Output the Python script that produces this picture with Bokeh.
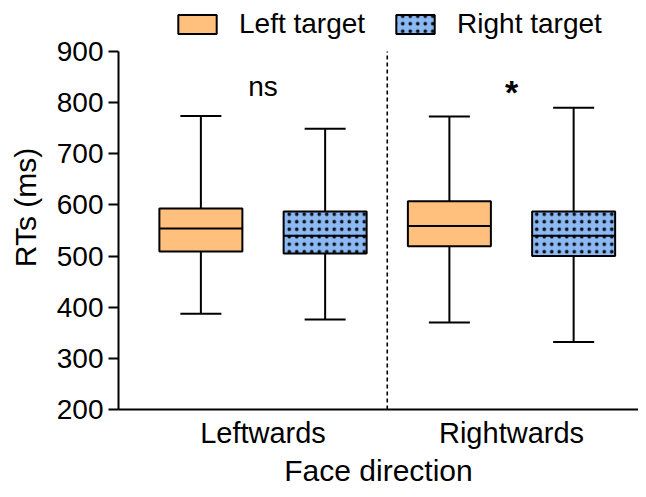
from bokeh.plotting import figure
from bokeh.models import Legend, LegendItem, FixedTicker, ColumnDataSource
from bokeh.embed import file_html
from bokeh.resources import INLINE
from bokeh.core.properties import value

# ---- data ----
groups = ["Leftwards", "Rightwards"]
series = ["Left target", "Right target"]
left_hi = [774, 773]
left_q3 = [593, 607]
left_med = [554, 559]
left_q1 = [509, 519]
left_lo = [387, 370]
right_hi = [749, 790]
right_q3 = [587, 587]
right_med = [540, 540]
right_q1 = [505, 500]
right_lo = [376, 332]
y_ticks = [200, 300, 400, 500, 600, 700, 800, 900]
sig_labels = ["ns", "*"]

FONT = "Liberation Sans"
ORANGE = "#FFC07E"
BLUE = "#8CB9F3"

group_x = [i + 1 for i in range(len(groups))]
offset = 0.25
box_w = 0.334
cap_w = 0.165

p = figure(width=638, height=489, x_range=(0.4185, 2.511), y_range=(200, 990),
           output_backend="svg", toolbar_location=None,
           min_border_left=118, min_border_right=0, min_border_top=5, min_border_bottom=80)
p.outline_line_color = None
p.xgrid.visible = False
p.ygrid.visible = False
p.background_fill_color = "white"

def draw_series(xs, hi, q3, med, q1, lo, color, hatch):
    src = ColumnDataSource(dict(x=xs, hi=hi, q3=q3, med=med, q1=q1, lo=lo,
                                cl=[x - cap_w / 2 for x in xs], cr=[x + cap_w / 2 for x in xs],
                                bl=[x - box_w / 2 for x in xs], br=[x + box_w / 2 for x in xs]))
    p.segment(x0="x", y0="q3", x1="x", y1="hi", source=src, line_color="black", line_width=2)
    p.segment(x0="x", y0="q1", x1="x", y1="lo", source=src, line_color="black", line_width=2)
    p.segment(x0="cl", y0="hi", x1="cr", y1="hi", source=src, line_color="black", line_width=2)
    p.segment(x0="cl", y0="lo", x1="cr", y1="lo", source=src, line_color="black", line_width=2)
    kw = dict(fill_color=color, line_color="black", line_width=2)
    if hatch:
        kw.update(hatch_pattern="dot", hatch_color="black", hatch_scale=7.5, hatch_weight=0.9,
                  hatch_alpha=0.9)
    r = p.vbar(x="x", width=box_w, top="q3", bottom="q1", source=src, **kw)
    p.segment(x0="bl", y0="med", x1="br", y1="med", source=src, line_color="black", line_width=2)
    return r

r1 = draw_series([g - offset for g in group_x], left_hi, left_q3, left_med, left_q1, left_lo, ORANGE, False)
r2 = draw_series([g + offset for g in group_x], right_hi, right_q3, right_med, right_q1, right_lo, BLUE, True)

# divider between the two face directions
div_x = sum(group_x) / len(group_x)
p.segment(x0=[div_x], y0=[y_ticks[0]], x1=[div_x], y1=[y_ticks[-1]],
          line_color="black", line_width=1.6, line_dash="4 3")

# significance labels
p.text(x=[group_x[0]], y=[831], text=[sig_labels[0]], text_font=value(FONT), text_font_size="28px",
       text_align="center", text_baseline="middle", text_color="black")
p.text(x=[group_x[1]], y=[821], text=[sig_labels[1]], text_font=value(FONT), text_font_size="34px",
       text_font_style="bold", text_align="center", text_baseline="middle", text_color="black")

# axes
p.yaxis.ticker = FixedTicker(ticks=y_ticks)
p.yaxis.bounds = (y_ticks[0], y_ticks[-1])
p.yaxis.axis_label = "RTs (ms)"
p.yaxis.axis_line_width = 2
p.yaxis.major_tick_line_width = 2
p.yaxis.major_tick_out = 10
p.yaxis.major_tick_in = 0
p.yaxis.minor_tick_line_color = None
p.yaxis.minor_tick_out = 0
p.yaxis.major_label_standoff = 5

p.xaxis.ticker = FixedTicker(ticks=group_x)
p.xaxis.major_label_overrides = {group_x[i]: groups[i] for i in range(len(groups))}
p.xaxis.axis_label = "Face direction"
p.xaxis.axis_line_width = 2
p.xaxis.major_tick_line_color = None
p.xaxis.major_tick_out = 0
p.xaxis.major_tick_in = 0
p.xaxis.minor_tick_line_color = None
p.xaxis.minor_tick_out = 0
p.xaxis.major_label_standoff = 7

for ax in (p.xaxis[0], p.yaxis[0]):
    ax.axis_line_color = "black"
    ax.major_label_text_font = FONT
    ax.major_label_text_color = "black"
    ax.axis_label_text_font = FONT
    ax.axis_label_text_font_size = "30px"
    ax.axis_label_text_font_style = "normal"
    ax.axis_label_text_color = "black"
p.yaxis.major_label_text_font_size = "28px"
p.xaxis.major_label_text_font_size = "29px"
p.xaxis.axis_label_standoff = 2
p.yaxis.axis_label_standoff = 12

legend = Legend(items=[LegendItem(label=series[0], renderers=[r1]),
                       LegendItem(label=series[1], renderers=[r2])],
                location=(55, 369), orientation="horizontal",
                glyph_width=48, glyph_height=24, label_standoff=18, spacing=26,
                padding=0, margin=0, border_line_color=None, background_fill_alpha=0,
                label_text_font=FONT, label_text_font_size="28px", label_text_color="black")
p.add_layout(legend, "center")

open("out.html", "w").write(file_html(p, INLINE))
